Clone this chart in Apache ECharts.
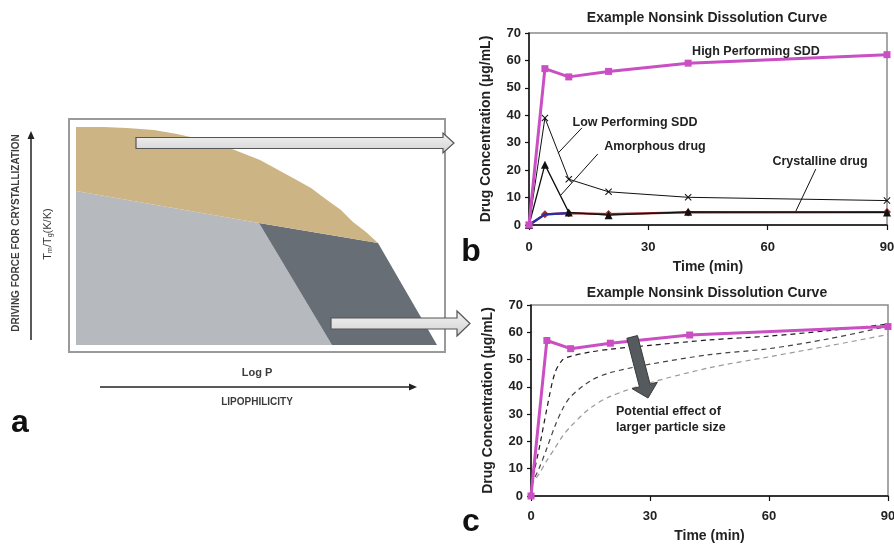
<!DOCTYPE html>
<html><head><meta charset="utf-8">
<script src="https://cdn.jsdelivr.net/npm/echarts@6/dist/echarts.min.js"></script>
<style>html,body{margin:0;padding:0;background:#fff}#c{width:894px;height:545px}</style>
</head><body><div id="c"></div>
<script>
// ---------- DATA ----------
// panel b / c measured points
const timePts = [0, 4, 10, 20, 40, 90];
const highSDD = [0, 57, 54, 56, 59, 62.1];
const lowSDD = [0, 39, 16.7, 12.1, 10.1, 8.9];
const amorphous = [0, 22, 4.6, 3.6, 4.8, 4.6];
const crystalline = [0, 3.9, 4.3, 4.0, 4.6, 4.7];
const crystallineEarlyIdx = 3; // blue segment covers first 3 points
// panel c hypothetical dashed curves
const timeCurve = [0, 2, 4, 6, 8, 10, 15, 20, 30, 45, 60, 75, 90];
const curveFine = [4, 17, 32, 45, 50, 51.2, 52.8, 53.8, 55.2, 57.2, 58.6, 60.6, 63];
const curveMid = [4, 10, 17.5, 25.5, 32, 36.4, 42.2, 45.2, 48.3, 51.8, 54, 57.6, 62.2];
const curveCoarse = [4, 8, 13, 17.5, 22, 25.5, 32.3, 36.5, 41.5, 47, 51, 55, 59.2];
// axes
const xTicks = [0, 30, 60, 90];
const yMax = 70, yStep = 10, xMax = 90, xStep = 30;
// annotation leader lines (data coords, panel b)
const leaderLow = [[13.3, 35.4], [7.3, 26.2]];
const leaderAmorph = [[17.3, 25.9], [8.0, 10.9]];
const leaderCryst = [[72.1, 20.4], [67.1, 5.1]];
// panel c big arrow: start (x,y) -> tip (x,y)
const bigArrow = [25.5, 58.3, 29.5, 35.9];
// panel a schematic (arbitrary units, x 0..376, y 0..233)
const tanRegion = [[7,225],[35,225],[58,224],[85,222],[108,218],[135,212],[158,205],[191,192],[224,174],[242,164],[258,152],[272,142],[284,130],[297,120],[309,109],[190,129],[7,161]];
const lightGrayRegion = [[7,161],[190,129],[263,7],[7,7]];
const darkGrayRegion = [[190,129],[309,109],[368,7],[263,7]];
// arrows in panel a: [xStart, xTip, yCenter, shaftHalf, headHalf, headLen]
const arrowUpper = [67, 385, 209, 5.5, 10, 11];
const arrowLower = [262, 401, 28.5, 5.5, 12.5, 13];

// ---------- CHART ----------
const chart = echarts.init(document.getElementById('c'), null, {renderer:'canvas'});
const F = 'Liberation Sans, Arial, sans-serif';
const MAG = '#c94fc3';

function pair(xs, ys, from, to){ const r=[]; for(let i=from;i<to;i++) r.push([xs[i], ys[i]]); return r; }

function polySeries(pts, color, smoothFlag){
  return {type:'custom', xAxisIndex:0, yAxisIndex:0, clip:false, silent:true, z:2,
    data:[[0,0]],
    renderItem:(p, api)=>({type:'polygon', shape:{points: pts.map(q=>api.coord(q))}, style:{fill:color}})};
}
function hArrowSeries(a){
  const [x0,x1,yc,sh,hh,hl]=a;
  return {type:'custom', xAxisIndex:0, yAxisIndex:0, clip:false, silent:true, z:5,
    data:[[x0,yc]],
    renderItem:(p, api)=>{
      const pts=[[x0,yc+sh],[x1-hl,yc+sh],[x1-hl,yc+hh],[x1,yc],[x1-hl,yc-hh],[x1-hl,yc-sh],[x0,yc-sh]].map(q=>api.coord(q));
      return {type:'polygon', shape:{points:pts}, style:{fill:{type:'linear',x:0,y:0,x2:0,y2:1,colorStops:[{offset:0,color:'#f4f4f4'},{offset:1,color:'#d2d2d2'}]}, stroke:'#555', lineWidth:1.2}};
    }};
}

function axisPair(gi, nameGapY, nameGapX, labelMargin){
  const x = {type:'value', gridIndex:gi, min:0, max:xMax, interval:xStep,
    name:'Time (min)', nameLocation:'middle', nameGap:nameGapX,
    nameTextStyle:{fontFamily:F, fontWeight:'bold', fontSize:14, color:'#222'},
    axisLine:{show:true, lineStyle:{color:'#111', width:1.5}},
    axisTick:{show:true, inside:false, length:5, lineStyle:{color:'#111', width:1.2}},
    axisLabel:{fontFamily:F, fontWeight:'bold', fontSize:13, color:'#222', margin:labelMargin, formatter:v=>xTicks.includes(v)?String(v):''},
    splitLine:{show:false}};
  const y = {type:'value', gridIndex:gi, min:0, max:yMax, interval:yStep,
    name:'Drug Concentration (μg/mL)', nameLocation:'middle', nameGap:nameGapY,
    nameTextStyle:{fontFamily:F, fontWeight:'bold', fontSize:14, color:'#222'},
    axisLine:{show:true, lineStyle:{color:'#111', width:1.5}},
    axisTick:{show:true, inside:false, length:4, lineStyle:{color:'#111', width:1.2}},
    axisLabel:{fontFamily:F, fontWeight:'bold', fontSize:13, color:'#222', margin:8},
    splitLine:{show:false}};
  return [x,y];
}
const [xb,yb] = axisPair(1, 36, 35, 16);
const [xc,yc] = axisPair(2, 36, 33, 14);

const xPath = 'path://M0,1L1,0L5,4L9,0L10,1L6,5L10,9L9,10L5,6L1,10L0,9L4,5Z';

function txt(x,y,text,opt){
  opt=opt||{};
  return {type:'text', x:x, y:y, rotation:opt.rot||0, z:50, silent:true,
    style:{text:text, x:0, y:0, align:opt.align||'center', verticalAlign:'middle',
      font:(opt.weight||'bold')+' '+(opt.size||12.5)+'px '+(opt.family||F), fill:opt.color||'#222', rich:opt.rich, lineHeight:opt.lh}};
}

const option = {
  animation:false,
  backgroundColor:'#fff',
  grid:[
    {left:69, top:119, width:376, height:233, show:true, backgroundColor:'#fff', borderColor:'#9a9a9a', borderWidth:2, outerBoundsMode:'none'},
    {left:529, top:33, width:358, height:192, show:true, borderColor:'#8a8a8a', borderWidth:1.5, outerBoundsMode:'none'},
    {left:531, top:305, width:357, height:191, show:true, borderColor:'#8a8a8a', borderWidth:1.5, outerBoundsMode:'none'}
  ],
  xAxis:[
    {type:'value', gridIndex:0, min:0, max:376, show:false},
    xb, xc
  ],
  yAxis:[
    {type:'value', gridIndex:0, min:0, max:233, show:false},
    yb, yc
  ],
  series:[
    polySeries(lightGrayRegion, '#b6b9be'),
    polySeries(darkGrayRegion, '#676e76'),
    polySeries(tanRegion, '#cdb484'),
    hArrowSeries(arrowUpper),
    hArrowSeries(arrowLower),
    // panel b
    {type:'line', xAxisIndex:1, yAxisIndex:1, data:pair(timePts, lowSDD, 0, timePts.length),
      lineStyle:{color:'#111', width:1}, itemStyle:{color:'#111'}, symbol:xPath, symbolSize:7, z:3},
    {type:'line', xAxisIndex:1, yAxisIndex:1, data:pair(timePts, crystalline, 0, timePts.length),
      lineStyle:{color:'#8a2222', width:2.2}, itemStyle:{color:'#a03030'}, symbol:'diamond', symbolSize:8, z:3},
    {type:'line', xAxisIndex:1, yAxisIndex:1, data:pair(timePts, crystalline, 0, crystallineEarlyIdx),
      lineStyle:{color:'#2a2ea8', width:2.2}, symbol:'none', z:4},
    {type:'line', xAxisIndex:1, yAxisIndex:1, data:pair(timePts, amorphous, 0, timePts.length),
      lineStyle:{color:'#111', width:1.3}, itemStyle:{color:'#111'}, symbol:'triangle', symbolSize:8, z:5},
    {type:'line', xAxisIndex:1, yAxisIndex:1, data:pair(timePts, highSDD, 0, timePts.length),
      lineStyle:{color:MAG, width:3}, itemStyle:{color:MAG}, symbol:'rect', symbolSize:7, z:6},
    {type:'line', xAxisIndex:1, yAxisIndex:1, data:leaderLow, lineStyle:{color:'#111', width:1}, symbol:'none', z:7},
    {type:'line', xAxisIndex:1, yAxisIndex:1, data:leaderAmorph, lineStyle:{color:'#111', width:1}, symbol:'none', z:7},
    {type:'line', xAxisIndex:1, yAxisIndex:1, data:leaderCryst, lineStyle:{color:'#111', width:1}, symbol:'none', z:7},
    // panel c
    {type:'line', xAxisIndex:2, yAxisIndex:2, data:pair(timeCurve, curveCoarse, 0, timeCurve.length), smooth:0.3,
      lineStyle:{color:'#9a9a9a', width:1.2, type:[5,4]}, symbol:'none', z:3},
    {type:'line', xAxisIndex:2, yAxisIndex:2, data:pair(timeCurve, curveMid, 0, timeCurve.length), smooth:0.3,
      lineStyle:{color:'#444', width:1.2, type:[5,4]}, symbol:'none', z:3},
    {type:'line', xAxisIndex:2, yAxisIndex:2, data:pair(timeCurve, curveFine, 0, timeCurve.length), smooth:0.3,
      lineStyle:{color:'#1a1a1a', width:1.2, type:[5,4]}, symbol:'none', z:3},
    {type:'line', xAxisIndex:2, yAxisIndex:2, data:pair(timePts, highSDD, 0, timePts.length),
      lineStyle:{color:MAG, width:3}, itemStyle:{color:MAG}, symbol:'rect', symbolSize:7, z:6},
    {type:'custom', xAxisIndex:2, yAxisIndex:2, clip:false, silent:true, z:8, data:[bigArrow],
      renderItem:(p, api)=>{
        const p0=api.coord([bigArrow[0],bigArrow[1]]), p1=api.coord([bigArrow[2],bigArrow[3]]);
        const dx=p1[0]-p0[0], dy=p1[1]-p0[1], L=Math.hypot(dx,dy);
        const ux=dx/L, uy=dy/L, nx=-uy, ny=ux;
        const sw=5.5, hw=13, hl=13;
        const hb=[p1[0]-ux*hl, p1[1]-uy*hl];
        const pts=[[p0[0]+nx*sw,p0[1]+ny*sw],[hb[0]+nx*sw,hb[1]+ny*sw],[hb[0]+nx*hw,hb[1]+ny*hw],p1,
          [hb[0]-nx*hw,hb[1]-ny*hw],[hb[0]-nx*sw,hb[1]-ny*sw],[p0[0]-nx*sw,p0[1]-ny*sw]];
        return {type:'polygon', shape:{points:pts}, style:{fill:'#555a5e', stroke:'#3a3a3a', lineWidth:1}};
      }}
  ],
  graphic:[
    // panel a labels and axis arrows
    txt(16, 233, 'DRIVING FORCE FOR CRYSTALLIZATION', {rot:Math.PI/2, size:10, weight:'bold', color:'#3c3c3c'}),
    {type:'text', x:48, y:234, rotation:Math.PI/2, silent:true,
      style:{text:'{a|T}{s|m}{a|/T}{s|g}{a|(K/K)}', x:0, y:0, align:'center', verticalAlign:'middle',
        rich:{a:{font:'normal 11px '+F, fill:'#333'}, s:{font:'normal 7px '+F, fill:'#333', padding:[5,0,0,0]}}}},
    {type:'line', shape:{x1:31, y1:340, x2:31, y2:137}, style:{stroke:'#222', lineWidth:1.5}},
    {type:'polygon', shape:{points:[[31,131],[27.5,139],[34.5,139]]}, style:{fill:'#222'}},
    txt(257, 373, 'Log P', {size:11, weight:'bold', color:'#3c3c3c'}),
    {type:'line', shape:{x1:100, y1:387, x2:410, y2:387}, style:{stroke:'#222', lineWidth:1.5}},
    {type:'polygon', shape:{points:[[417,387],[409,383.5],[409,390.5]]}, style:{fill:'#222'}},
    txt(257, 402, 'LIPOPHILICITY', {size:10, weight:'bold', color:'#3c3c3c'}),
    txt(20, 423, 'a', {size:32, color:'#111'}),
    txt(471, 252, 'b', {size:32, color:'#111'}),
    txt(471, 522, 'c', {size:32, color:'#111'}),
    // titles
    txt(707, 18, 'Example Nonsink Dissolution Curve', {size:14}),
    txt(707, 293, 'Example Nonsink Dissolution Curve', {size:14}),
    // annotations b
    txt(756, 52, 'High Performing SDD'),
    txt(635, 123, 'Low Performing SDD'),
    txt(655, 147, 'Amorphous drug'),
    txt(820, 162, 'Crystalline drug'),
    // annotation c
    txt(616, 420, 'Potential effect of\nlarger particle size', {align:'left', lh:16})
  ]
};
chart.setOption(option);
</script></body></html>
